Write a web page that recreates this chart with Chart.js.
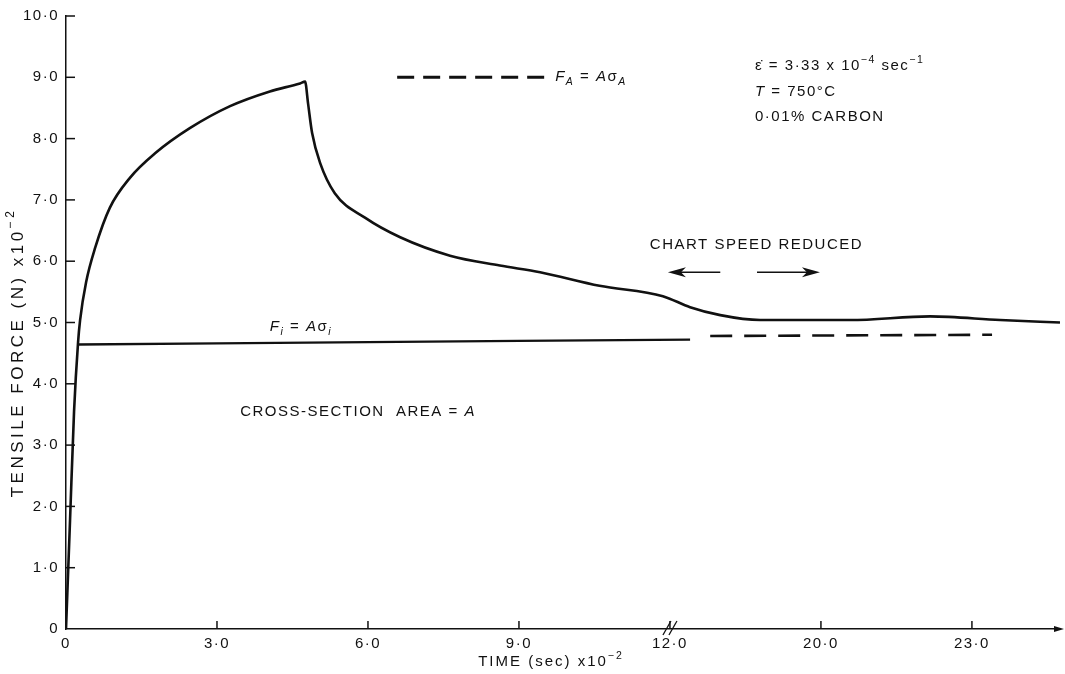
<!DOCTYPE html>
<html><head><meta charset="utf-8">
<script src="https://cdn.jsdelivr.net/npm/chart.js@4.4.1/dist/chart.umd.min.js"></script>
<style>html,body{margin:0;padding:0;background:#fff}#wrap{width:1065px;height:674px;position:relative}</style>
</head><body><div id="wrap"><canvas id="c" width="1065" height="674"></canvas></div>
<script>
// ---- data (x in chart-axis units: 3 units per major division; after the break the axis is relabelled) ----
const xTickValues = [0, 3, 6, 9, 12, 15, 18];
const xTickLabels = ['0', '3·0', '6·0', '9·0', '12·0', '20·0', '23·0'];
const yTickValues = [0,1,2,3,4,5,6,7,8,9,10];
const yTickLabels = ['0','1·0','2·0','3·0','4·0','5·0','6·0','7·0','8·0','9·0','10·0'];

const forceTime  = [0, 0.08, 0.16, 0.24, 0.28, 0.40, 0.58, 0.87, 1.27, 1.77, 2.46, 3.26, 4.05, 4.65, 4.75,
                    4.81, 4.89, 5.05, 5.34, 5.94, 6.64, 7.63, 8.62, 9.42, 10.6, 11.86,
                    12.4, 13.0, 13.79, 15.58, 17.17, 18.56, 19.75];
const forceValue = [0, 1.77, 3.55, 4.68, 5.04, 5.66, 6.22, 6.87, 7.36, 7.76, 8.17, 8.53, 8.77, 8.9, 8.93,
                    8.57, 8.09, 7.6, 7.11, 6.71, 6.39, 6.09, 5.93, 5.82, 5.6, 5.43,
                    5.25, 5.12, 5.04, 5.04, 5.1, 5.04, 5.0];

const fiSolidTime  = [0.24, 3, 6, 9, 12.4];
const fiSolidValue = [4.64, 4.66, 4.68, 4.70, 4.72];
const fiDashTime   = [12.8, 18.4];
const fiDashValue  = [4.78, 4.80];
const faDashTime   = [6.58, 9.56];
const faDashValue  = [9.0, 9.0];

const FONT = '"Liberation Sans", Arial, sans-serif';
const INK = '#111';

function pts(xs, ys){ return xs.map((x,i)=>({x:x, y:ys[i]})); }

// annotation texts placed in data units
const notes = [
  {x: 9.72, y: 9.0, parts:[{t:'F',i:1},{t:'A',i:1,sub:1},{t:' = ',},{t:'A',i:1},{t:'σ'},{t:'A',i:1,sub:1}]},
  {x: 13.69, y: 9.19, parts:[{t:'ε̇ = 3·33 x 10'},{t:'−4',sup:1},{t:' sec'},{t:'−1',sup:1}]},
  {x: 13.69, y: 8.77, parts:[{t:'T',i:1},{t:' = 750°C'}]},
  {x: 13.69, y: 8.36, parts:[{t:'0·01% CARBON'}]},
  {x: 11.6, y: 6.26, parts:[{t:'CHART SPEED REDUCED'}]},
  {x: 4.05, y: 4.93, parts:[{t:'F',i:1},{t:'i',i:1,sub:1},{t:' = '},{t:'A',i:1},{t:'σ'},{t:'i',i:1,sub:1}]},
  {x: 3.46, y: 3.55, parts:[{t:'CROSS-SECTION  AREA = '},{t:'A',i:1}]}
];
const arrows = [ {from:[13.0,5.82], to:[11.96,5.82]}, {from:[13.73,5.82], to:[14.98,5.82]} ];
const xTitleParts = [{t:'TIME (sec) x10'},{t:'−2',sup:1}];
const yTitleParts = [{t:'TENSILE FORCE (N) x10'},{t:'−2',sup:1}];

function richWidth(ctx, parts, size, sp){
  let w = 0;
  for (const p of parts){ const s = (p.sub||p.sup) ? size*0.7 : size;
    ctx.font = (p.i?'italic ':'') + s + 'px ' + FONT; ctx.letterSpacing = sp + 'px';
    w += ctx.measureText(p.t).width; }
  return w;
}
function drawRich(ctx, x, y, parts, size, sp, center){
  ctx.textBaseline = 'middle';
  ctx.textAlign = 'left';
  if (center) x -= richWidth(ctx, parts, size, sp)/2;
  for (const p of parts){
    const s = (p.sub||p.sup) ? size*0.7 : size;
    ctx.font = (p.i?'italic ':'') + s + 'px ' + FONT;
    ctx.letterSpacing = sp + 'px';
    const dy = p.sub ? size*0.35 : (p.sup ? -size*0.4 : 0);
    ctx.fillText(p.t, x, y+dy);
    x += ctx.measureText(p.t).width;
  }
}

const spacing = {
  id:'spacing',
  beforeUpdate(chart){ chart.ctx.letterSpacing = '1.5px'; },
  beforeLayout(chart){ chart.ctx.letterSpacing = '1.5px'; },
  beforeDraw(chart){ chart.ctx.letterSpacing = '1.5px'; }
};

const overlay = {
  id:'overlay',
  afterDraw(chart){
    const ctx = chart.ctx, xs = chart.scales.x, ys = chart.scales.y, ca = chart.chartArea;
    ctx.save();
    ctx.strokeStyle = INK; ctx.fillStyle = INK; ctx.lineWidth = 1.5;
    // inward ticks
    for (const v of xTickValues){ if (v===0) continue; const px = xs.getPixelForValue(v);
      ctx.beginPath(); ctx.moveTo(px, ca.bottom); ctx.lineTo(px, ca.bottom-8); ctx.stroke(); }
    for (const v of yTickValues){ if (v===0) continue; const py = ys.getPixelForValue(v);
      ctx.beginPath(); ctx.moveTo(ca.left, py); ctx.lineTo(ca.left+9, py); ctx.stroke(); }
    // axis break
    const bx = xs.getPixelForValue(12);
    ctx.lineWidth = 1.3;
    for (const o of [-3, 3]){ ctx.beginPath(); ctx.moveTo(bx+o-4, ca.bottom+6); ctx.lineTo(bx+o+4, ca.bottom-8); ctx.stroke(); }
    // small arrow at end of x axis
    ctx.beginPath(); ctx.moveTo(ca.right+4, ca.bottom); ctx.lineTo(ca.right-6, ca.bottom-3); ctx.lineTo(ca.right-6, ca.bottom+3); ctx.closePath(); ctx.fill();
    // axis titles
    drawRich(ctx, (ca.left+ca.right)/2 - 12, ca.bottom + 33, xTitleParts, 15, 2, true);
    ctx.save(); ctx.translate(18, (ca.top+ca.bottom)/2 + 30); ctx.rotate(-Math.PI/2);
    drawRich(ctx, 0, 0, yTitleParts, 17, 3.5, true); ctx.restore();
    // notes
    for (const n of notes){ drawRich(ctx, xs.getPixelForValue(n.x), ys.getPixelForValue(n.y), n.parts, 15, 1.5, false); }
    // arrows
    ctx.lineWidth = 1.6;
    for (const a of arrows){
      const x0 = xs.getPixelForValue(a.from[0]), y0 = ys.getPixelForValue(a.from[1]);
      const x1 = xs.getPixelForValue(a.to[0]), y1 = ys.getPixelForValue(a.to[1]);
      const dir = Math.sign(x1-x0);
      ctx.beginPath(); ctx.moveTo(x0,y0); ctx.lineTo(x1 - dir*10, y1); ctx.stroke();
      ctx.beginPath(); ctx.moveTo(x1, y1); ctx.lineTo(x1 - dir*18, y1-5); ctx.lineTo(x1 - dir*13, y1); ctx.lineTo(x1 - dir*18, y1+5); ctx.closePath(); ctx.fill();
    }
    ctx.restore();
  }
};

new Chart(document.getElementById('c'), {
  type: 'scatter',
  data: { datasets: [
    { data: pts(forceTime, forceValue), showLine:true, borderColor:INK, borderWidth:2.6, pointRadius:0, cubicInterpolationMode:'monotone' },
    { data: pts(fiSolidTime, fiSolidValue), showLine:true, borderColor:INK, borderWidth:2.4, pointRadius:0, tension:0 },
    { data: pts(fiDashTime, fiDashValue), showLine:true, borderColor:INK, borderWidth:2.6, pointRadius:0, borderDash:[22,12] },
    { data: pts(faDashTime, faDashValue), showLine:true, borderColor:INK, borderWidth:3, pointRadius:0, borderDash:[17,9] }
  ]},
  options: {
    responsive:false, animation:false, devicePixelRatio:1,
    layout:{ padding:{ top:12, right:5, left:0, bottom:0 } },
    plugins:{ legend:{display:false}, tooltip:{enabled:false} },
    scales:{
      x:{ type:'linear', min:0, max:19.75,
        afterBuildTicks(s){ s.ticks = xTickValues.map(v=>({value:v})); },
        afterFit(s){ s.height = 45; },
        ticks:{ autoSkip:false, maxRotation:0, padding:6, color:INK, font:{family:FONT, size:15},
          callback:(v)=>{ const i = xTickValues.indexOf(v); return i<0?'':xTickLabels[i]; } },
        grid:{ display:false, drawTicks:false },
        border:{ display:true, color:INK, width:1.5 },
        title:{ display:false } },
      y:{ type:'linear', min:0, max:10,
        afterBuildTicks(s){ s.ticks = yTickValues.map(v=>({value:v})); },
        afterFit(s){ s.width = 66; },
        ticks:{ padding:7, color:INK, font:{family:FONT, size:15},
          callback:(v)=>{ const i = yTickValues.indexOf(v); return i<0?'':yTickLabels[i]; } },
        grid:{ display:false, drawTicks:false },
        border:{ display:true, color:INK, width:1.5 },
        title:{ display:false } }
    }
  },
  plugins:[spacing, overlay]
});
</script></body></html>
